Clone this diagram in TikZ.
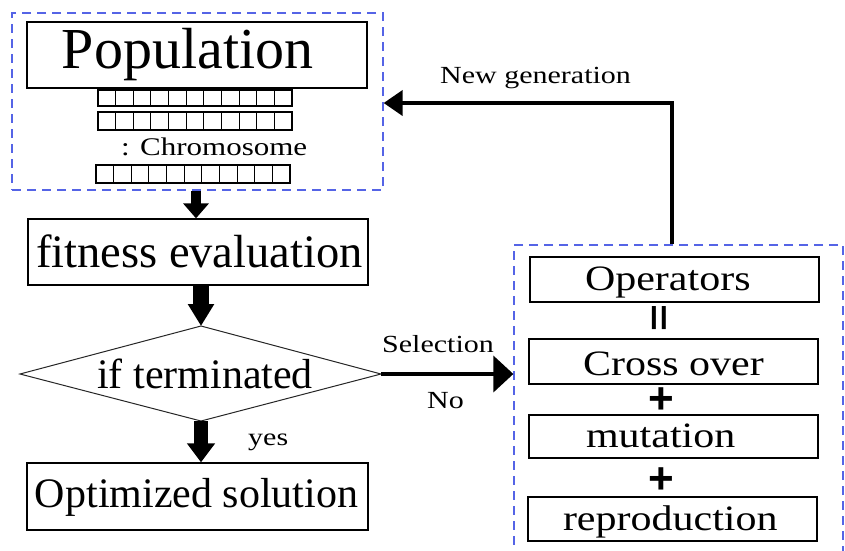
\documentclass[tikz,border=0pt]{standalone}
\usepackage{fontspec}
\usepackage{graphicx}
\setmainfont{Liberation Serif}
\newfontfamily\signfont{Liberation Sans}
\usetikzlibrary{arrows.meta}
\definecolor{groupblue}{RGB}{85,100,230}

% font size helper and a fixed-width text line with a left offset
\newcommand{\fsz}[1]{\fontsize{#1}{#1}\selectfont}
\newcommand{\boxline}[3]{\makebox[#1][l]{\hspace*{#2}#3}}

\begin{document}
\begin{tikzpicture}[x=1pt,y=-1pt,
  stepbox/.style={draw=black, line width=1.3pt, inner sep=0pt, anchor=center},
  groupbox/.style={draw=groupblue, line width=1.3pt, dash pattern=on 9pt off 6pt,
    inner sep=0pt, anchor=center},
  cell/.style={draw=black, line width=1.1pt},
  tag/.style={inner sep=0pt, anchor=base west},
  sign/.style={inner sep=0pt, anchor=center, text depth=0pt},
]
\useasboundingbox (0,0) rectangle (845,550);
\fill[white] (0,0) rectangle (845,550);
\clip (0,0) rectangle (845,550);

% ---------- population group ----------
\node[groupbox, minimum width=371pt, minimum height=177pt] (popgroup) at (197.5,101.5) {};
\node[stepbox, text height=46pt, text depth=20pt] (pop) at (197,55)
  {\fsz{58}\boxline{340pt}{35pt}{Population}};

% chromosome strings
\foreach \x/\y/\h in {98/90/16, 98/112/18, 96/165/18} {
  \draw[cell] (\x,\y) rectangle ({\x+194},{\y+\h});
  \foreach \i in {1,...,10}
    \draw[cell] ({\x+17.636*\i},\y) -- ({\x+17.636*\i},{\y+\h});
}
\node[tag] (chromo) at (121,155) {\fsz{31}\scalebox{1}[0.82]{: Chromosome}};

% ---------- main flow ----------
\node[stepbox, text height=48pt, text depth=18pt] (fit) at (198,252)
  {\fsz{46.5}\boxline{340pt}{8pt}{fitness evaluation}};

\coordinate (dT) at (201,326);
\coordinate (dR) at (381,374);
\coordinate (dB) at (201,421);
\coordinate (dL) at (20,374);
\draw[line width=1pt, draw=black!85] (dT) -- (dR) -- (dB) -- (dL) -- cycle;
\node[tag] (term) at (97,388) {\fsz{42}if terminated};

\node[stepbox, text height=44pt, text depth=23pt] (opt) at (197.5,496.5)
  {\fsz{42}\boxline{341pt}{8pt}{Optimized solution}};

\node[tag] (yes) at (248,445) {\fsz{30}\scalebox{1}[0.82]{yes}};

% ---------- operators group ----------
\node[groupbox, minimum width=329pt, minimum height=311pt] (opsgroup) at (678.5,400.5) {};
\node[stepbox, text height=33pt, text depth=12pt] (ops) at (674.5,279.5)
  {\fsz{42}\boxline{289pt}{55pt}{\scalebox{1}[0.85]{Operators}}};
\node[stepbox, text height=36pt, text depth=9pt] (cross) at (673.5,361.5)
  {\fsz{42}\boxline{289pt}{54pt}{\scalebox{1}[0.85]{Cross over}}};
\node[stepbox, text height=32pt, text depth=11pt] (mut) at (673.5,436.5)
  {\fsz{42}\boxline{289pt}{57pt}{\scalebox{1}[0.85]{mutation}}};
\node[stepbox, text height=33pt, text depth=11pt] (repro) at (672.5,519)
  {\fsz{42}\boxline{289pt}{35pt}{\scalebox{1}[0.85]{reproduction}}};

\node[sign, text height=26pt, rotate=90] (eq) at (658,318)
  {\signfont\bfseries\fsz{46}\scalebox{1}[0.8]{=}};
\node[sign, text height=31.2pt] (plus1) at (661,398) {\signfont\bfseries\fsz{44}+};
\node[sign, text height=31.2pt] (plus2) at (661,478) {\signfont\bfseries\fsz{44}+};

% ---------- labels ----------
\node[tag] (newgen) at (440,83) {\fsz{30}\scalebox{1}[0.82]{New generation}};
\node[tag] (sel) at (382,352) {\fsz{30}\scalebox{1}[0.82]{Selection}};
\node[tag] (no) at (427,408) {\fsz{30}\scalebox{1}[0.82]{No}};

% ---------- connectors ----------
\draw[line width=10pt, -{Triangle[width=25pt,length=15pt]}]
  ([xshift=-2pt]fit.north |- popgroup.south) -- ([xshift=-2pt]fit.north);
\draw[line width=16pt, -{Triangle[width=25pt,length=22pt]}]
  (dT |- fit.south) -- (dT);
\draw[line width=14pt, -{Triangle[width=27pt,length=19pt]}]
  (dB) -- (dB |- opt.north);
\draw[line width=4pt, -{Triangle[width=36pt,length=20pt]}]
  (dR) -- (opsgroup.west |- dR);
\coordinate (turn) at (672,103);
\draw[line width=4pt, line join=miter, -{Triangle[width=25pt,length=19pt]}]
  (turn |- opsgroup.north) -- (turn) -- (popgroup.east |- turn);
\end{tikzpicture}
\end{document}
